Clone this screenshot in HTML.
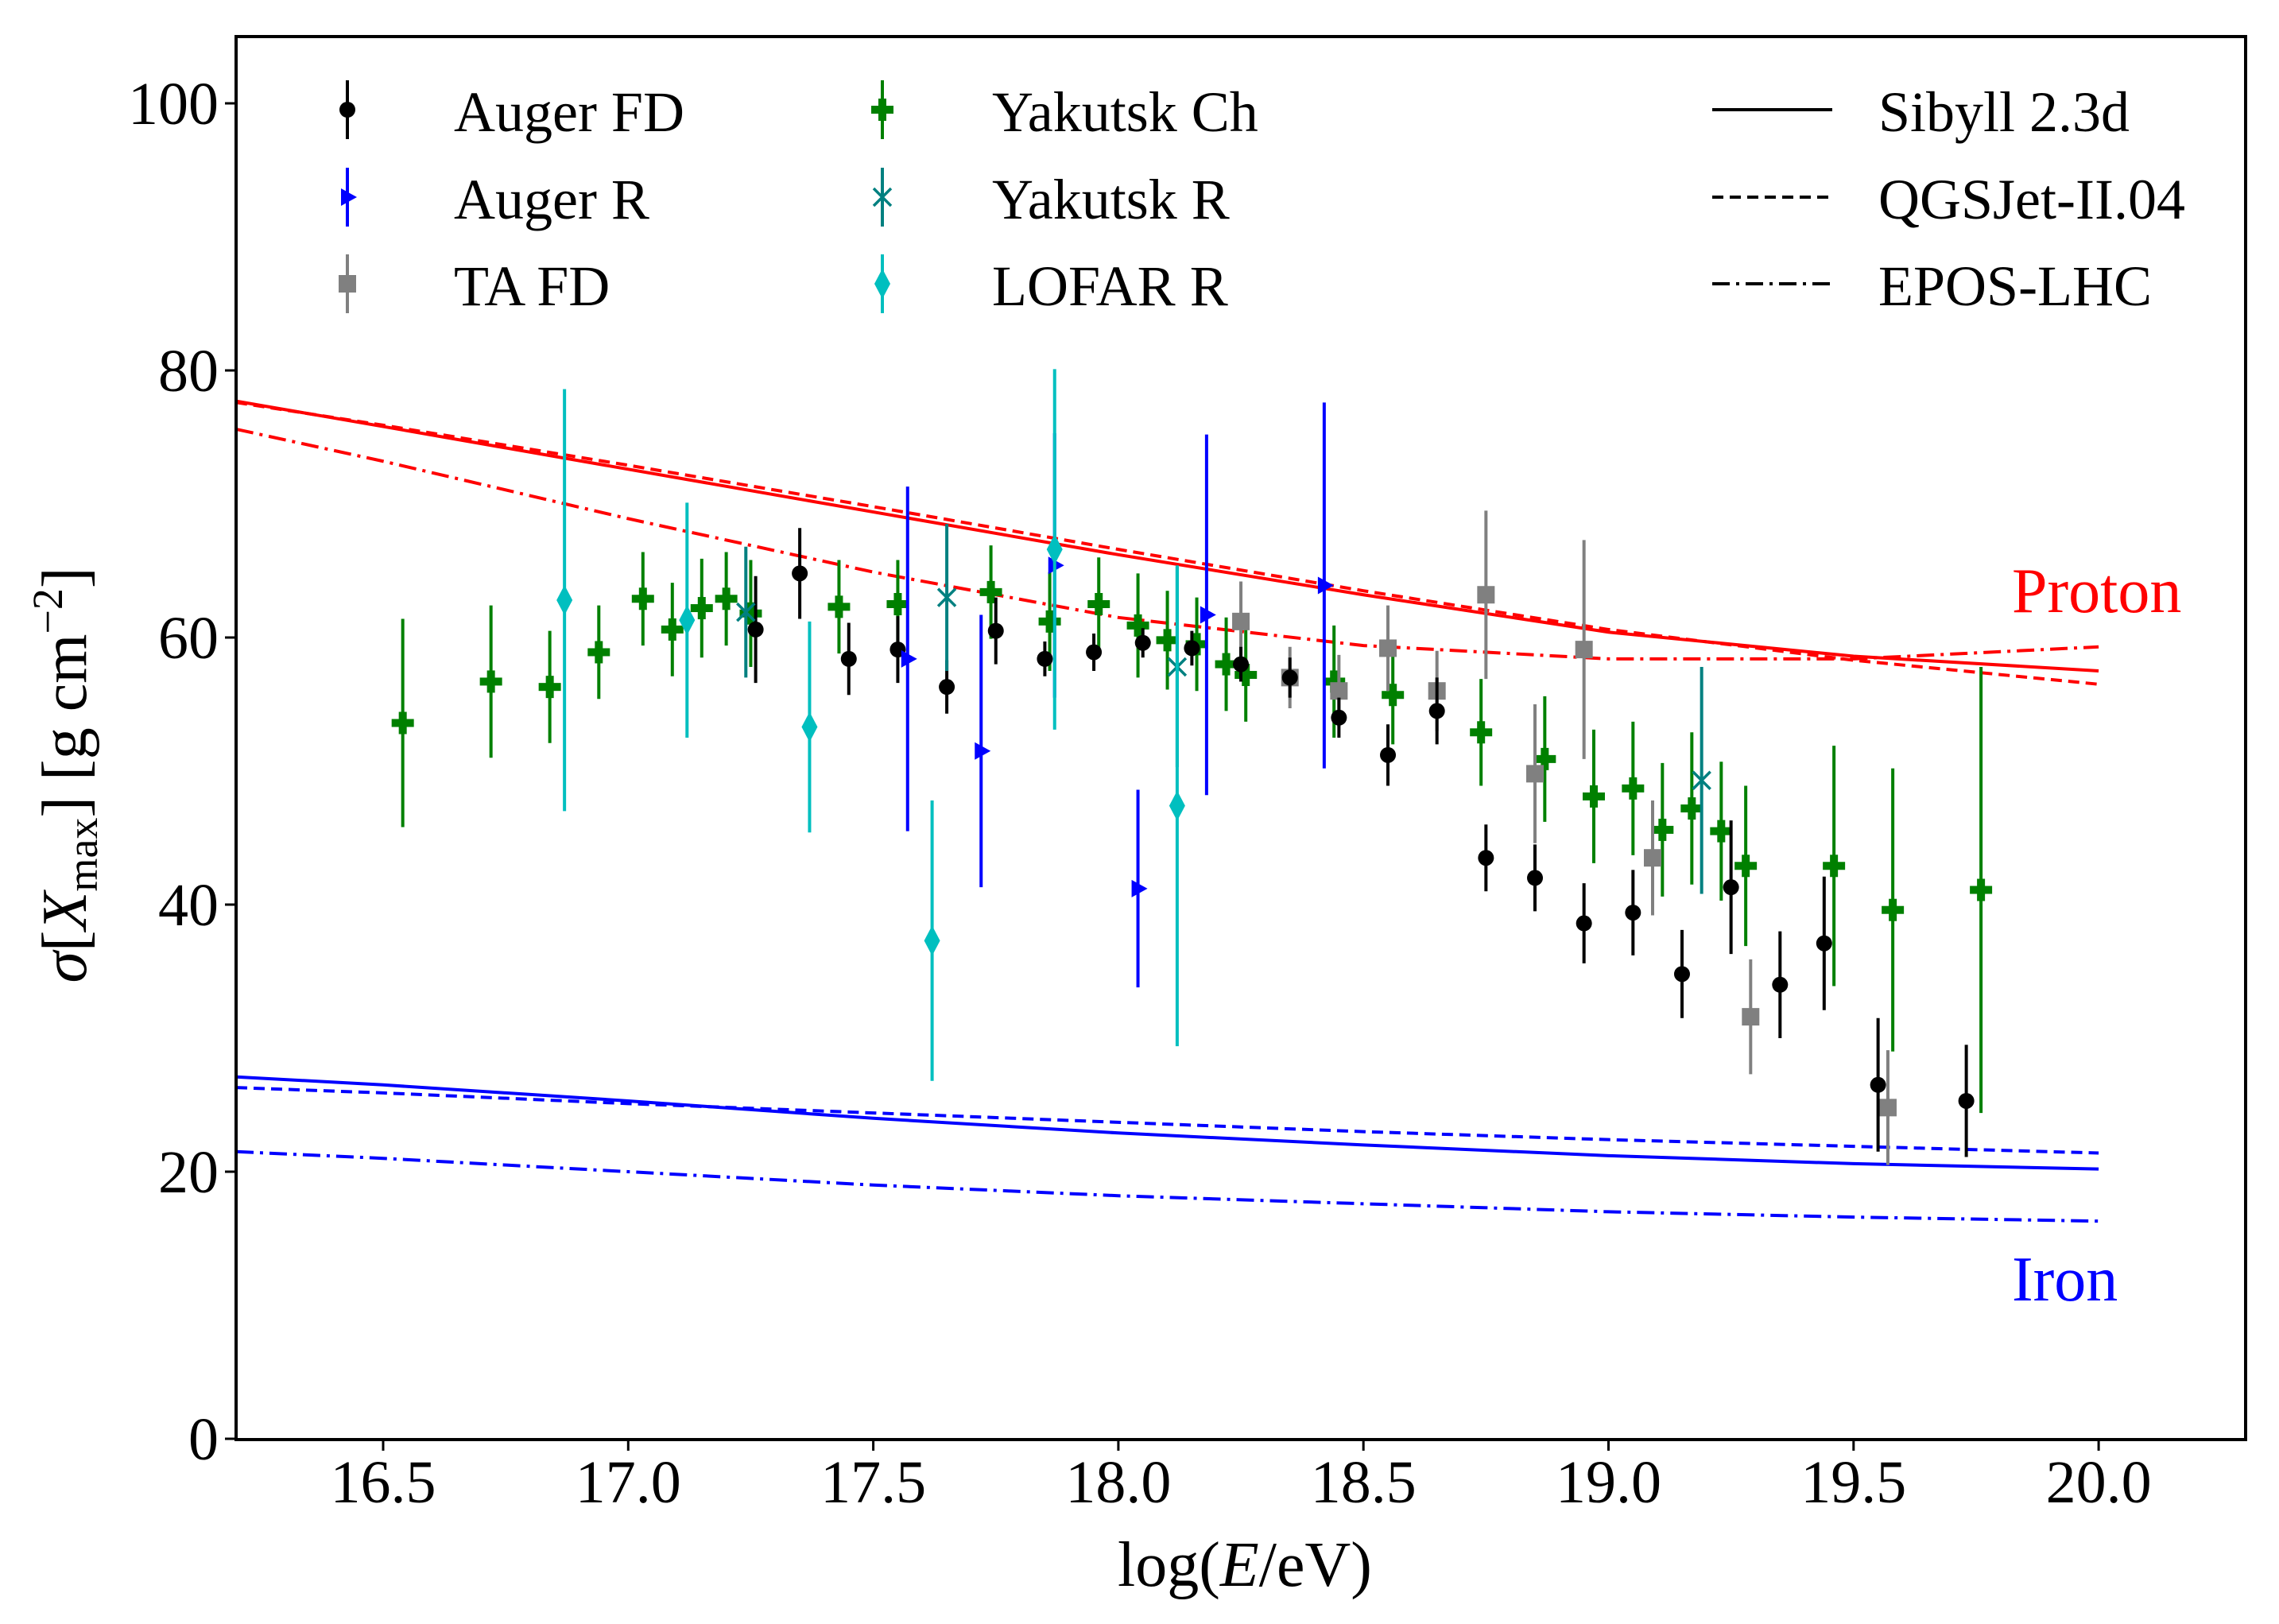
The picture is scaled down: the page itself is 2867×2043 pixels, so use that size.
<!DOCTYPE html>
<html><head><meta charset="utf-8"><style>
html,body{margin:0;padding:0;background:#fff;}
svg{display:block;font-family:"Liberation Serif",serif;}
</style></head><body>
<svg id="chart" width="2867" height="2043" viewBox="0 0 2867 2043" xmlns="http://www.w3.org/2000/svg">
<g id="plot"></g>
<rect x="297" y="46" width="2528" height="1765" fill="none" stroke="#000" stroke-width="4"/>
<g id="axes"></g>
<g id="legend"></g>
<text x="2531" y="770" font-size="80" fill="#f00">Proton</text>
<text x="2531" y="1636" font-size="80" fill="#00f">Iron</text>
<text x="1566" y="1995" font-size="80" text-anchor="middle">log(<tspan font-style="italic">E</tspan>/eV)</text>
<text transform="translate(108,975) rotate(-90)" font-size="80" text-anchor="middle"><tspan font-style="italic">σ</tspan>[<tspan font-style="italic">X</tspan><tspan font-size="54" dy="14">max</tspan><tspan dy="-14">] [g cm</tspan><tspan font-size="54" dy="-30">−2</tspan><tspan dy="30">]</tspan></text>
</svg>
<script>
const xTicks=[16.5,17.0,17.5,18.0,18.5,19.0,19.5,20.0];
const xTickLabels=["16.5","17.0","17.5","18.0","18.5","19.0","19.5","20.0"];
const yTicks=[0,20,40,60,80,100];
const yTickLabels=["0","20","40","60","80","100"];

const modelX=[16.2,16.5,17,17.5,18,18.5,19,19.5,20];
const sibP=[77.7,75.8,72.6,69.4,66.2,63.2,60.4,58.6,57.5];
const qgsP=[77.6,75.9,72.9,69.8,66.6,63.5,60.6,58.3,56.5];
const eposP=[75.6,73.2,68.9,64.9,61.5,59.4,58.4,58.4,59.3];
const sibFe=[27.1,26.5,25.3,24.0,22.9,22.0,21.2,20.6,20.2];
const qgsFe=[26.3,25.9,25.1,24.4,23.7,23.0,22.4,21.9,21.4];
const eposFe=[21.5,21.0,20.0,19.0,18.2,17.6,17.0,16.6,16.3];

const augerFdX=[17.26,17.35,17.45,17.55,17.65,17.75,17.85,17.95,18.05,18.15,18.25,18.35,18.45,18.55,18.65,18.75,18.85,18.95,19.05,19.15,19.25,19.35,19.44,19.55,19.73];
const augerFdY=[60.6,64.8,58.4,59.1,56.3,60.5,58.4,58.9,59.6,59.2,58.0,57.0,54.0,51.2,54.5,43.5,42.0,38.6,39.4,34.8,41.3,34.0,37.1,26.5,25.3];
const augerFdE=[4.0,3.4,2.7,2.5,2.0,2.5,1.3,1.4,1.1,1.3,1.3,1.5,1.5,2.3,2.5,2.5,2.5,3.0,3.2,3.3,5.0,4.0,5.0,5.0,4.2];

const augerRX=[17.57,17.72,17.87,18.04,18.18,18.42];
const augerRY=[58.4,51.5,65.4,41.2,61.7,63.9];
const augerRE=[12.9,10.2,9.9,7.4,13.5,13.7];

const taX=[18.25,18.35,18.45,18.55,18.65,18.75,18.85,18.95,19.09,19.29,19.57];
const taY=[61.2,57.0,56.0,59.2,56.0,63.2,49.8,59.1,43.5,31.6,24.8];
const taE=[3.0,2.3,2.7,3.2,3.0,6.3,5.2,8.2,4.3,4.3,4.3];

const yakChX=[16.54,16.72,16.84,16.94,17.03,17.09,17.15,17.20,17.25,17.43,17.55,17.74,17.86,17.96,18.04,18.10,18.16,18.22,18.26,18.44,18.56,18.74,18.87,18.97,19.05,19.11,19.17,19.23,19.28,19.46,19.58,19.76];
const yakChY=[53.6,56.7,56.3,58.9,62.9,60.6,62.2,62.9,61.8,62.3,62.5,63.4,61.2,62.5,60.9,59.8,59.5,58.0,57.2,56.7,55.7,52.9,50.9,48.1,48.7,45.6,47.2,45.5,42.9,42.9,39.6,41.1];
const yakChE=[7.8,5.7,4.2,3.5,3.5,3.5,3.7,3.5,4.0,3.5,3.3,3.5,3.7,3.5,3.9,3.7,3.5,3.5,3.5,4.2,3.7,4.0,4.7,5.0,5.0,5.0,5.7,5.2,6.0,9.0,10.6,16.7];

const yakRX=[17.24,17.65,18.12,19.19];
const yakRY=[61.9,63.0,57.8,49.3];
const yakRE=[4.9,5.5,7.5,8.5];

const lofarX=[16.87,17.12,17.37,17.62,17.87,18.12];
const lofarY=[62.8,61.3,53.3,37.3,66.6,47.4];
const lofarE=[15.8,8.8,7.9,10.5,13.5,18.0];

const NS="http://www.w3.org/2000/svg";
function X(v){return 482+(v-16.5)*616.6;}
function Y(v){return 1810-v*16.8;}
function mk(tag,attrs,parent){const e=document.createElementNS(NS,tag);for(const k in attrs)e.setAttribute(k,attrs[k]);parent.appendChild(e);return e;}

const plot=document.getElementById('plot');
const axes=document.getElementById('axes');
const legend=document.getElementById('legend');

xTicks.forEach((t,i)=>{
  const l=mk('line',{x1:X(t),x2:X(t),y1:1811,y2:1825,stroke:'#000','stroke-width':3},axes);
  
  
  const tx=mk('text',{x:X(t),y:1890,'font-size':76,'text-anchor':'middle'},axes);
  tx.textContent=xTickLabels[i];
  
  
});
yTicks.forEach((t,i)=>{
  const l=mk('line',{x1:283,x2:297,y1:Y(t),y2:Y(t),stroke:'#000','stroke-width':3},axes);
  
  
  const tx=mk('text',{x:275,y:Y(t)+26,'font-size':76,'text-anchor':'end'},axes);
  tx.textContent=yTickLabels[i];
  
  
});

const dashes={solid:'none',dash:'14,8',dashdot:'22,8,4,8'};
function modelLine(ys,color,style,name){
  const pts=modelX.map((x,i)=>X(x)+','+Y(ys[i])).join(' ');
  const p=mk('polyline',{points:pts,fill:'none',stroke:color,'stroke-width':4,'stroke-dasharray':dashes[style]},plot);
  
  
}
modelLine(sibP,'#f00','solid','sibyll-proton-line');
modelLine(qgsP,'#f00','dash','qgsjet-proton-line');
modelLine(eposP,'#f00','dashdot','epos-proton-line');
modelLine(sibFe,'#00f','solid','sibyll-iron-line');
modelLine(qgsFe,'#00f','dash','qgsjet-iron-line');
modelLine(eposFe,'#00f','dashdot','epos-iron-line');

function marker(g,shape,cx,cy,color){
  if(shape==='circle') mk('circle',{cx:cx,cy:cy,r:10,fill:color},g);
  else if(shape==='tri') mk('polygon',{points:`${cx-8},${cy-11} ${cx+12},${cy} ${cx-8},${cy+11}`,fill:color},g);
  else if(shape==='square') mk('rect',{x:cx-11,y:cy-11,width:22,height:22,fill:color},g);
  else if(shape==='plus'){mk('rect',{x:cx-14,y:cy-5,width:28,height:10,fill:color},g);mk('rect',{x:cx-5,y:cy-14,width:10,height:28,fill:color},g);}
  else if(shape==='x'){mk('path',{d:`M${cx-11},${cy-11}L${cx+11},${cy+11}M${cx-11},${cy+11}L${cx+11},${cy-11}`,stroke:color,'stroke-width':3.5},g);}
  else if(shape==='diamond') mk('polygon',{points:`${cx},${cy-19} ${cx+10},${cy} ${cx},${cy+19} ${cx-10},${cy}`,fill:color},g);
}
function series(xs,ys,es,color,shape,name){
  const g=mk('g',{},plot);
  
  
  xs.forEach((x,i)=>{
    const pg=mk('g',{},g);
    
    
    mk('line',{x1:X(x),x2:X(x),y1:Y(ys[i]-es[i]),y2:Y(ys[i]+es[i]),stroke:color,'stroke-width':4},pg);
    marker(pg,shape,X(x),Y(ys[i]),color);
  });
}
series(yakChX,yakChY,yakChE,'#008000','plus','yakutsk-ch');
series(taX,taY,taE,'#808080','square','ta-fd');
series(augerFdX,augerFdY,augerFdE,'#000','circle','auger-fd');
series(augerRX,augerRY,augerRE,'#0000ff','tri','auger-r');
series(yakRX,yakRY,yakRE,'#008080','x','yakutsk-r');
series(lofarX,lofarY,lofarE,'#00bfbf','diamond','lofar-r');

const legItems=[
  ['Auger FD','#000','circle',437,138,571],
  ['Auger R','#0000ff','tri',437,248,571],
  ['TA FD','#808080','square',437,357,571],
  ['Yakutsk Ch','#008000','plus',1110,138,1248],
  ['Yakutsk R','#008080','x',1110,248,1248],
  ['LOFAR R','#00bfbf','diamond',1110,357,1248]];
legItems.forEach(it=>{
  const g=mk('g',{},legend);
  
  
  mk('line',{x1:it[3],x2:it[3],y1:it[4]-37,y2:it[4]+37,stroke:it[1],'stroke-width':4},g);
  marker(g,it[2],it[3],it[4],it[1]);
  const t=mk('text',{x:it[5],y:it[4]+27,'font-size':72},g);
  t.textContent=it[0];
});
[['Sibyll 2.3d','solid',138],['QGSJet-II.04','dash',248],['EPOS-LHC','dashdot',357]].forEach(it=>{
  const g=mk('g',{},legend);
  
  
  mk('line',{x1:2154,x2:2305,y1:it[2],y2:it[2],stroke:'#000','stroke-width':4,'stroke-dasharray':dashes[it[1]]},g);
  const t=mk('text',{x:2363,y:it[2]+27,'font-size':72},g);
  t.textContent=it[0];
});
</script>
</body></html>
